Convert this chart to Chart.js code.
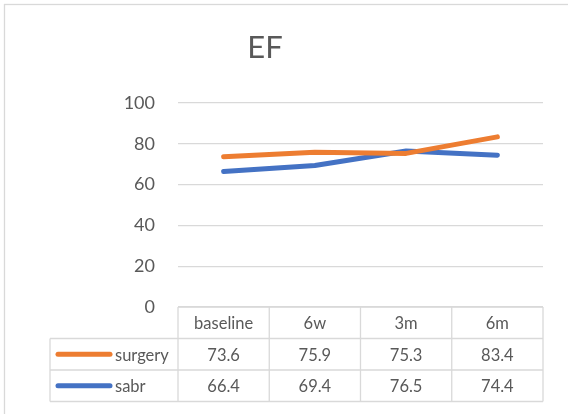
<!DOCTYPE html>
<html>
<head>
<meta charset="utf-8">
<script src="https://cdn.jsdelivr.net/npm/chart.js@4"></script>
<style>
html,body{margin:0;padding:0;background:#fff;}
#wrap{width:568px;height:414px;position:relative;}
</style>
</head>
<body>
<div id="wrap"><canvas id="c" width="568" height="414"></canvas></div>
<script>
const chartTitle = 'EF';
const categories = ['baseline', '6w', '3m', '6m'];
const seriesNames = ['surgery', 'sabr'];
const surgeryValues = [73.6, 75.9, 75.3, 83.4];
const sabrValues = [66.4, 69.4, 76.5, 74.4];
const yTicks = [0, 20, 40, 60, 80, 100];

const FONT = 'Lato, "Noto Sans", sans-serif';
const TXT = '#595959';
const GRID = '#d9d9d9';
const colors = ['#ED7D31', '#4472C4'];

const tablePlugin = {
  id: 'tablePlugin',
  afterDraw(chart) {
    const ctx = chart.ctx;
    const x = chart.scales.x, y = chart.scales.y;
    const area = chart.chartArea;
    const n = categories.length;
    const half = (x.getPixelForValue(1) - x.getPixelForValue(0)) / 2;
    const top = y.getPixelForValue(0);
    const rowH = 31.5;
    const legendLeft = 50;
    const rows = [top, top + rowH, top + 2 * rowH, top + 3 * rowH];
    ctx.save();
    // outer chart border
    ctx.strokeStyle = GRID;
    ctx.lineWidth = 1.3;
    ctx.strokeRect(4.5, 4.5, 600, 500);
    // title
    ctx.fillStyle = TXT;
    ctx.font = '31px ' + FONT;
    ctx.textAlign = 'center';
    ctx.textBaseline = 'middle';
    ctx.fillText(chartTitle, 265, 48);
    // table lines
    ctx.strokeStyle = GRID;
    ctx.lineWidth = 1.3;
    ctx.beginPath();
    ctx.moveTo(area.left, rows[0]); ctx.lineTo(area.right, rows[0]);
    for (let r = 1; r < 4; r++) { ctx.moveTo(legendLeft, rows[r]); ctx.lineTo(area.right, rows[r]); }
    for (let i = 0; i <= n; i++) {
      const px = i < n ? x.getPixelForValue(i) - half : x.getPixelForValue(n - 1) + half;
      ctx.moveTo(px, rows[0]); ctx.lineTo(px, rows[3]);
    }
    ctx.moveTo(legendLeft, rows[1]); ctx.lineTo(legendLeft, rows[3]);
    ctx.stroke();
    // header
    ctx.fillStyle = TXT;
    ctx.font = '16.5px ' + FONT;
    ctx.textAlign = 'center';
    ctx.textBaseline = 'middle';
    categories.forEach((c, i) => ctx.fillText(c, x.getPixelForValue(i), (rows[0] + rows[1]) / 2 + 1));
    // data rows
    chart.data.datasets.forEach((ds, r) => {
      const cy = (rows[r + 1] + rows[r + 2]) / 2 + 1;
      ds.data.forEach((v, i) => {
        ctx.textAlign = 'center';
        ctx.fillText(v.toFixed(1), x.getPixelForValue(i), cy);
      });
      ctx.strokeStyle = ds.borderColor;
      ctx.lineWidth = 5;
      ctx.lineCap = 'round';
      ctx.beginPath();
      ctx.moveTo(58, cy - 1); ctx.lineTo(110, cy - 1);
      ctx.stroke();
      ctx.textAlign = 'left';
      ctx.fillText(ds.label, 115, cy);
    });
    ctx.restore();
  }
};

new Chart(document.getElementById('c'), {
  type: 'line',
  data: {
    labels: categories,
    datasets: [
      { label: seriesNames[0], data: surgeryValues, borderColor: colors[0], backgroundColor: colors[0], borderWidth: 5, borderCapStyle: 'round', borderJoinStyle: 'round', pointRadius: 0, tension: 0 },
      { label: seriesNames[1], data: sabrValues, borderColor: colors[1], backgroundColor: colors[1], borderWidth: 5, borderCapStyle: 'round', borderJoinStyle: 'round', pointRadius: 0, tension: 0 }
    ]
  },
  options: {
    responsive: false,
    animation: false,
    devicePixelRatio: 1,
    layout: { padding: { left: 0, right: 25, top: 103, bottom: 107 } },
    plugins: { legend: { display: false }, title: { display: false }, tooltip: { enabled: false } },
    scales: {
      x: { display: false, offset: true },
      y: {
        min: 0, max: 100,
        afterBuildTicks(scale) { scale.ticks = yTicks.map(v => ({ value: v })); },
        afterFit(scale) { scale.width = 178; },
        border: { display: false },
        grid: { color: GRID, lineWidth: 1.3, drawTicks: false },
        ticks: { padding: 23, color: TXT, font: { family: FONT, size: 18 } }
      }
    }
  },
  plugins: [tablePlugin]
});
</script>
</body>
</html>
